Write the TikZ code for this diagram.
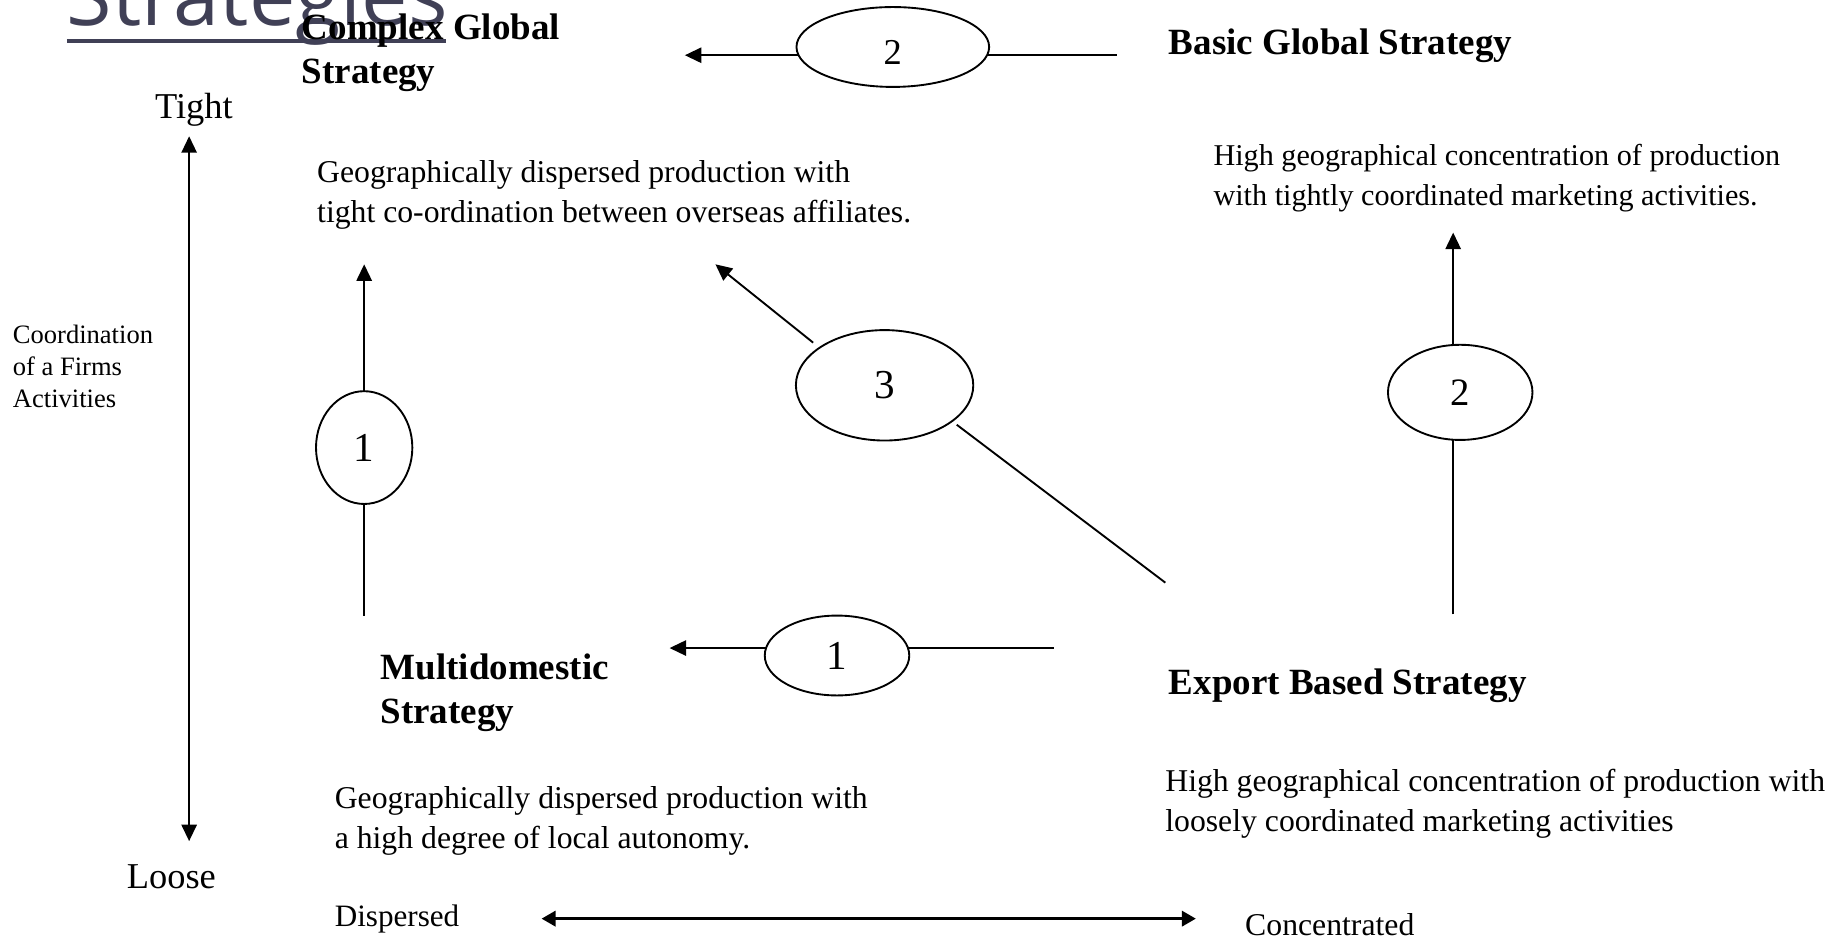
\documentclass[tikz,border=0pt]{standalone}
\usepackage{fontspec}
\setmainfont{Liberation Serif}
\newfontfamily\titlefont{Open Sans}
\usetikzlibrary{arrows.meta,shapes.geometric}
\definecolor{titlecol}{RGB}{64,64,86}
\begin{document}
\begin{tikzpicture}[x=1pt,y=-1pt,
  every node/.style={inner sep=0pt,outer sep=0pt},
  % multi-line labels are placed by the baseline of their last line
  lbl/.style={anchor=base west,align=left},
  head/.style={lbl,font=\fontsize{31.5}{37.5}\selectfont\bfseries},
  body/.style={lbl,font=\fontsize{27}{34}\selectfont},
  axislbl/.style={lbl,font=\fontsize{31}{37}\selectfont},
  oval/.style={draw,ellipse,line width=1.6pt},
  link/.style={line width=1.6pt},
  arr/.style={link,-{Triangle[length=14pt,width=13pt]}},
]
\useasboundingbox (0,0) rectangle (1568,799);
\clip (0,0) rectangle (1568,799);

% heading, partly cut by the top edge
\node[anchor=base west,font=\fontsize{70.5}{70}\selectfont\titlefont,text=titlecol] (title) at (57,22) {Strategies};
\coordinate (ulA) at (57,35);
\coordinate (ulB) at (380,35);
\draw[titlecol,line width=4pt] (ulA) -- (ulB);

% strategy names
\node[head] (cgs) at (257,71.5) {Complex Global\\Strategy};
\node[head] (bgs) at (995,46) {Basic Global Strategy};
\node[head] (mds) at (324,615.5) {Multidomestic\\Strategy};
\node[head] (ebs) at (995,591) {Export Based Strategy};

% descriptions
\node[body] (dcg) at (270,189) {Geographically dispersed production with\\tight co-ordination between overseas affiliates.};
\node[body,font=\fontsize{25.7}{34}\selectfont] (dbg) at (1033,175) {High geographical concentration of production\\with tightly coordinated marketing activities.};
\node[body] (dmd) at (285,722) {Geographically dispersed production with\\a high degree of local autonomy.};
\node[body] (deb) at (992,708) {High geographical concentration of production with\\loosely coordinated marketing activities};

% vertical axis
\node[axislbl] (tight) at (132,101) {Tight};
\node[axislbl] (loose) at (108,756) {Loose};
\node[lbl,font=\fontsize{22.6}{27.5}\selectfont] (coord) at (11,347) {Coordination\\of a Firms\\Activities};
\coordinate (axTop) at (161,116);
\coordinate (axBot) at (161,716);
\draw[link,{Triangle[length=14pt,width=13pt]}-{Triangle[length=14pt,width=13pt]}] (axTop) -- (axBot);

% horizontal axis
\node[lbl,font=\fontsize{26.5}{30}\selectfont] (disp) at (285,789) {Dispersed};
\node[lbl,font=\fontsize{27}{30}\selectfont] (conc) at (1060,796) {Concentrated};
\coordinate (axL) at (461,782);
\coordinate (axR) at (1018,782);
\draw[line width=2.6pt,{Triangle[length=12pt,width=13pt]}-{Triangle[length=12pt,width=13pt]}] (axL) -- (axR);

% numbered transitions
\node[oval,minimum width=164pt,minimum height=68pt,text height=30pt,text depth=0pt,font=\fontsize{31}{31}\selectfont] (top2) at (760,40) {2};
\node[oval,minimum width=123pt,minimum height=68pt,font=\fontsize{35}{35}\selectfont] (bot1) at (712.5,558) {1};
\node[oval,minimum width=82pt,minimum height=96pt,font=\fontsize{35}{35}\selectfont] (left1) at (310,381) {1};
\node[oval,minimum width=123pt,minimum height=81pt,font=\fontsize{33}{33}\selectfont] (right2) at (1243,334) {2};
\node[oval,minimum width=151pt,minimum height=94pt,font=\fontsize{35}{35}\selectfont] (mid3) at (753,328) {3};

% top transition
\coordinate (t2tip) at (583,47);
\coordinate (t2end) at (951,47);
\draw[arr] (top2.185) -- (t2tip |- top2.185);
\draw[link] (top2.-5) -- (t2end |- top2.-5);

% bottom transition
\coordinate (b1tip) at (570,552);
\coordinate (b1end) at (897,552);
\draw[arr] (bot1.174) -- (b1tip |- bot1.174);
\draw[link] (bot1.6) -- (b1end |- bot1.6);

% left transition
\coordinate (l1tip) at (310,225);
\coordinate (l1end) at (310,524);
\draw[link] (l1end) -- (left1.south);
\draw[arr] (left1.north) -- (l1tip);

% right transition
\coordinate (r2tip) at (1237,198);
\coordinate (r2end) at (1237,523);
\draw[link] (r2end) -- (r2end |- right2.south);
\draw[arr] (r2end |- right2.north) -- (r2tip);

% diagonal transition
\coordinate (m3tip) at (609,225);
\coordinate (m3end) at (992,496);
\draw[arr,shorten <=7pt] (mid3.150) -- (m3tip);
\draw[link,shorten <=5pt] (mid3.-28) -- (m3end);
\end{tikzpicture}
\end{document}
